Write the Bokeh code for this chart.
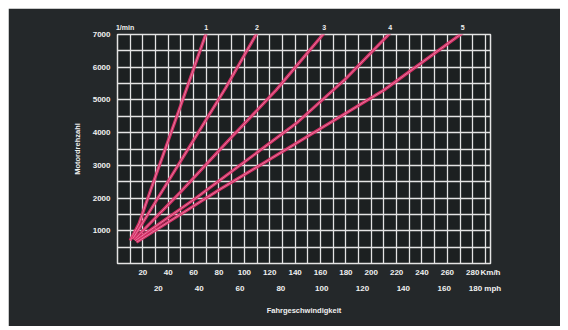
from bokeh.plotting import figure
from bokeh.models import Range1d, LinearAxis, FixedTicker, Spacer
from bokeh.layouts import column, row
from bokeh.embed import file_html
from bokeh.resources import INLINE

# ---- data ----
gear_names = ["1", "2", "3", "4", "5"]
gear1_kmh = [10, 17, 26, 40, 55, 70]
gear1_rpm = [700, 1220, 2230, 3760, 5400, 7050]
gear2_kmh = [12, 35, 59, 85, 110]
gear2_rpm = [750, 2200, 3710, 5350, 7050]
gear3_kmh = [13, 50, 86, 125, 163]
gear3_rpm = [720, 2200, 3700, 5300, 7050]
gear4_kmh = [14, 60, 100, 142, 180, 215]
gear4_rpm = [700, 1950, 3100, 4320, 5650, 7050]
gear5_kmh = [15, 80, 142, 210, 272]
gear5_rpm = [650, 2250, 3700, 5300, 7050]

rpm_ticks = [1000, 2000, 3000, 4000, 5000, 6000, 7000]
kmh_ticks = [20, 40, 60, 80, 100, 120, 140, 160, 180, 200, 220, 240, 260, 280]
mph_ticks = [20, 40, 60, 80, 100, 120, 140, 160, 180]
grid_kmh = [0, 10, 20, 30, 40, 50, 60, 70, 80, 90, 100, 110, 120, 130, 140,
            150, 160, 170, 180, 190, 200, 210, 220, 230, 240, 250, 260, 270, 280, 290]
grid_rpm = [0, 500, 1000, 1500, 2000, 2500, 3000, 3500, 4000, 4500, 5000,
            5500, 6000, 6500, 7000]
KMH_MAX = 294
RPM_MAX = 7000
KMH_PER_MPH = 1.609344
UNIT_POS_KMH = 294      # where "Km/h" sits on the km/h scale
RPM_UNIT_POS = 6        # where "1/min" sits on the km/h scale

BG = "#24282a"
FRAME_BG = "#1c2021"
GRID = "#e4e4e4"
PINK = "#dc2f68"
TXT = "#f0f0f0"
FONT = "Liberation Sans"

p = figure(width=552, height=318, output_backend="svg", toolbar_location=None,
           x_range=Range1d(0, KMH_MAX), y_range=Range1d(0, RPM_MAX),
           min_border_left=109, min_border_right=70, min_border_top=26,
           min_border_bottom=63)
p.background_fill_color = FRAME_BG
p.border_fill_color = BG
p.outline_line_color = GRID
p.outline_line_width = 1.5

p.xgrid.ticker = FixedTicker(ticks=grid_kmh)
p.ygrid.ticker = FixedTicker(ticks=grid_rpm)
for g in (p.xgrid, p.ygrid):
    g.grid_line_color = GRID
    g.grid_line_width = 1.3
    g.grid_line_alpha = 1.0

def style_axis(ax, standoff, size="8px"):
    ax.axis_line_color = None
    ax.major_tick_line_color = None
    ax.minor_tick_line_color = None
    ax.major_tick_out = 0
    ax.major_tick_in = 0
    ax.minor_tick_out = 0
    ax.minor_tick_in = 0
    ax.major_label_standoff = standoff
    ax.major_label_text_color = TXT
    ax.major_label_text_font = FONT
    ax.major_label_text_font_size = size
    ax.major_label_text_font_style = "bold"

def style_title(ax, text, standoff):
    ax.axis_label = text
    ax.axis_label_text_color = TXT
    ax.axis_label_text_font = FONT
    ax.axis_label_text_font_size = "7.5px"
    ax.axis_label_text_font_style = "bold"
    ax.axis_label_standoff = standoff

# y axis
p.yaxis.ticker = FixedTicker(ticks=rpm_ticks)
style_axis(p.yaxis[0], 7)
style_title(p.yaxis[0], "Motordrehzahl", 8)

# km/h axis
p.xaxis.ticker = FixedTicker(ticks=kmh_ticks + [UNIT_POS_KMH])
p.xaxis.major_label_overrides = {UNIT_POS_KMH: "Km/h"}
style_axis(p.xaxis[0], 4)

# mph axis
p.extra_x_ranges = {"mph": Range1d(0, KMH_MAX / KMH_PER_MPH)}
mph_axis = LinearAxis(x_range_name="mph", ticker=FixedTicker(ticks=mph_ticks))
style_axis(mph_axis, 4)
mph_axis.major_label_overrides = {180: "180 mph"}
style_title(mph_axis, "Fahrgeschwindigkeit", 10)
p.add_layout(mph_axis, "below")

# gear lines
gears = [(gear1_kmh, gear1_rpm), (gear2_kmh, gear2_rpm), (gear3_kmh, gear3_rpm),
         (gear4_kmh, gear4_rpm), (gear5_kmh, gear5_rpm)]
for xs, ys in gears:
    p.line(xs, ys, line_color=PINK, line_width=3.2, line_alpha=0.95,
           line_join="round")
    p.line(xs, ys, line_color="#f4b8cc", line_width=0.8, line_alpha=0.7,
           line_join="round")

# top axis: gear numbers at the top end of each line, plus the rpm unit
top_pos = [xs[-1] for xs, ys in gears]
top_axis = LinearAxis(ticker=FixedTicker(ticks=[RPM_UNIT_POS] + top_pos))
overrides = {RPM_UNIT_POS: "1/min"}
for pos, name in zip(top_pos, gear_names):
    overrides[pos] = name
top_axis.major_label_overrides = overrides
style_axis(top_axis, 4, "7px")
p.add_layout(top_axis, "above")

layout = column(Spacer(height=8), row(Spacer(width=8), p))
open("out.html", "w").write(file_html(layout, INLINE))
